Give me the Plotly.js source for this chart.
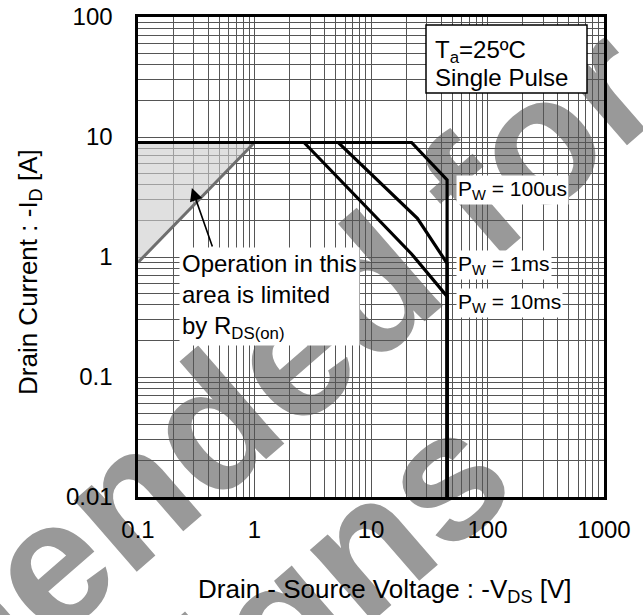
<!DOCTYPE html>
<html>
<head>
<meta charset="utf-8">
<script src="https://cdn.plot.ly/plotly-3.0.1.min.js"></script>
<style>html,body{margin:0;padding:0;background:#fff;}#chart{width:643px;height:615px;}</style>
</head>
<body>
<div id="chart"></div>
<script>
// ---- data ----
const xTickVals = [0.1, 1, 10, 100, 1000];
const xTickText = ["0.1", "1", "10", "100", "1000"];
const yTickVals = [0.01, 0.1, 1, 10, 100];
const yTickText = ["0.01", "0.1", "1", "10", "100"];

// R_DS(on) limit line (V, A)
const rdsX = [0.1, 1];
const rdsY = [0.9, 9];

// Pulse-width SOA boundaries (V, A)
const pw100usX = [0.1, 22.3, 45, 45];
const pw100usY = [9, 9, 4.4, 0.01];
const pw1msX = [1, 5.24, 25, 45, 45];
const pw1msY = [9, 9, 2.1, 0.886, 0.01];
const pw10msX = [1, 2.66, 22.3, 45, 45];
const pw10msY = [9, 9, 1.06, 0.47, 0.01];

const FONT = "Liberation Sans, Arial, sans-serif";
const blackLine = {color: "#000", width: 3.2};

const traces = [
  { // shaded region limited by RDS(on)
    x: [rdsX[0], rdsX[1], rdsX[0], rdsX[0]],
    y: [rdsY[0], rdsY[1], rdsY[1], rdsY[0]],
    mode: "lines", fill: "toself",
    fillcolor: "rgba(205,205,205,0.62)",
    line: {color: "rgba(0,0,0,0)", width: 0},
    hoverinfo: "skip", showlegend: false
  },
  {
    x: rdsX, y: rdsY, mode: "lines",
    line: {color: "#6e6e6e", width: 3}, showlegend: false
  },
  {x: pw10msX, y: pw10msY, mode: "lines", line: blackLine, showlegend: false},
  {x: pw1msX, y: pw1msY, mode: "lines", line: blackLine, showlegend: false},
  {x: pw100usX, y: pw100usY, mode: "lines", line: blackLine, showlegend: false}
];

const gridCol = "#555";
const axisCommon = {
  type: "log",
  showgrid: true, gridcolor: gridCol, gridwidth: 1,
  minor: {dtick: "D1", showgrid: true, gridcolor: gridCol, gridwidth: 1, ticks: ""},
  showline: true, linecolor: "#000", linewidth: 2.6, mirror: true,
  zeroline: false,
  tickmode: "array",
  ticks: "outside", tickcolor: "rgba(0,0,0,0)",
  tickfont: {family: FONT, size: 24, color: "#000"},
  fixedrange: true
};

// paper-coordinate helpers (plot area 138..604 x 17..497)
const L = 138, R = 39, T = 17, B = 118, W = 643, H = 615;
const PW = W - L - R, PH = H - T - B;
const px = v => (v - L) / PW;
const py = v => (H - B - v) / PH;

const layout = {
  width: W, height: H,
  margin: {l: L, r: R, t: T, b: B, pad: 0},
  paper_bgcolor: "#fff", plot_bgcolor: "#fff",
  font: {family: FONT, size: 24, color: "#000"},
  xaxis: Object.assign({}, axisCommon, {
    range: [-1, 3], tickvals: xTickVals, ticktext: xTickText, ticklen: 10
  }),
  yaxis: Object.assign({}, axisCommon, {
    range: [-2, 2], tickvals: yTickVals, ticktext: yTickText, ticklen: 18
  }),
  shapes: [
    { // watermark line 1
      type: "line", xref: "paper", yref: "paper", layer: "below",
      x0: px(22 - 75), y0: py(566 + 66), x1: px(22 + 75), y1: py(566 - 66),
      line: {color: "rgba(0,0,0,0)", width: 0},
      label: {text: "<b>Recommended for</b>", textposition: "middle", textangle: -41,
              xanchor: "center", yanchor: "middle", padding: 0,
              font: {family: FONT, size: 180, color: "#999999", weight: "bold"}}
    },
    { // watermark line 2
      type: "line", xref: "paper", yref: "paper", layer: "below",
      x0: px(62 - 75), y0: py(786 + 66), x1: px(62 + 75), y1: py(786 - 66),
      line: {color: "rgba(0,0,0,0)", width: 0},
      label: {text: "<b>new designs</b>", textposition: "middle", textangle: -41,
              xanchor: "center", yanchor: "middle", padding: 0,
              font: {family: FONT, size: 180, color: "#999999", weight: "bold"}}
    },
    { // Ta box
      type: "rect", xref: "paper", yref: "paper", layer: "above",
      x0: px(426), x1: px(587), y0: py(93), y1: py(25),
      fillcolor: "#fff", line: {color: "#000", width: 1.5}
    }
  ],
  annotations: [
    {xref: "paper", yref: "paper", x: px(433), y: py(52), xanchor: "left", yanchor: "middle",
     text: "T<sub>a</sub>=25ºC", showarrow: false, font: {family: FONT, size: 24, color: "#000"}},
    {xref: "paper", yref: "paper", x: px(433), y: py(77), xanchor: "left", yanchor: "middle",
     text: "Single Pulse", showarrow: false, font: {family: FONT, size: 24, color: "#000"}},
    {xref: "paper", yref: "paper", x: px(456), y: py(190), xanchor: "left", yanchor: "middle",
     text: "P<sub>W</sub> = 100us", showarrow: false, bgcolor: "#fff", borderpad: 1,
     font: {family: FONT, size: 21, color: "#000"}},
    {xref: "paper", yref: "paper", x: px(456), y: py(265), xanchor: "left", yanchor: "middle",
     text: "P<sub>W</sub> = 1ms", showarrow: false, bgcolor: "#fff", borderpad: 1,
     font: {family: FONT, size: 21, color: "#000"}},
    {xref: "paper", yref: "paper", x: px(456), y: py(303), xanchor: "left", yanchor: "middle",
     text: "P<sub>W</sub> = 10ms", showarrow: false, bgcolor: "#fff", borderpad: 1,
     font: {family: FONT, size: 21, color: "#000"}},
    {xref: "paper", yref: "paper", x: px(179), y: py(296), xanchor: "left", yanchor: "middle",
     align: "left", showarrow: false, bgcolor: "#fff", borderpad: 2,
     text: "Operation in this<br>area is limited<br>by R<sub>DS(on)</sub>",
     font: {family: FONT, size: 24, color: "#000"}},
    { // arrow pointing to the limited area
      xref: "x", yref: "y", x: Math.log10(0.29), y: Math.log10(3.76),
      axref: "pixel", ayref: "pixel", ax: 21, ay: 60,
      text: "", showarrow: true, arrowhead: 2, arrowsize: 1.6, arrowwidth: 1.6,
      arrowcolor: "#000", standoff: 0
    },
    {xref: "paper", yref: "paper", x: px(385), y: py(590), xanchor: "center", yanchor: "middle",
     text: "Drain - Source Voltage : -V<sub>DS</sub> [V]", showarrow: false,
     font: {family: FONT, size: 26, color: "#000"}},
    {xref: "paper", yref: "paper", x: px(29), y: py(272), xanchor: "center", yanchor: "middle",
     textangle: -90, text: "Drain Current : -I<sub>D</sub> [A]", showarrow: false,
     font: {family: FONT, size: 26, color: "#000"}}
  ]
};

Plotly.newPlot("chart", traces, layout, {displayModeBar: false, staticPlot: true});
</script>
</body>
</html>
